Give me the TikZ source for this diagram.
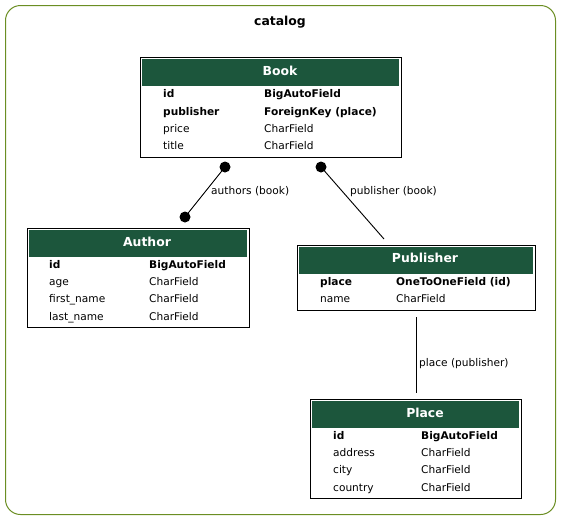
\documentclass[tikz,border=0pt]{standalone}
\usepackage{fontspec}
\setmainfont{DejaVu Sans}
\definecolor{frame}{HTML}{6B8E23}
\definecolor{hdr}{HTML}{1C563C}
\begin{document}
\begin{tikzpicture}[x=1pt,y=-1pt,
  tbl/.style={draw=black,line width=1pt,inner sep=0pt,anchor=north west},
  hdrfill/.style={fill=hdr},
  title/.style={anchor=base,text=white,font=\fontsize{12.4}{14}\selectfont\bfseries,inner sep=0pt},
  fld/.style={anchor=base west,font=\fontsize{10.6}{12}\selectfont,inner sep=0pt},
  key/.style={anchor=base west,font=\fontsize{10.6}{12}\selectfont\bfseries,inner sep=0pt},
  lbl/.style={anchor=base west,font=\fontsize{10.6}{12}\selectfont,inner sep=0pt},
  conn/.style={draw=black,line width=0.9pt},
  dot/.style={circle,fill=black,inner sep=0pt,minimum size=11pt}]
\useasboundingbox (0,0) rectangle (561,520);
% cluster
\draw[frame,line width=1pt,rounded corners=15pt] (5.5,5.5) rectangle (555.5,514.5);
\node[anchor=base,font=\fontsize{12.4}{14}\selectfont\bfseries,inner sep=0pt] (cat) at (280,25.5) {catalog};
% Book
\node[tbl,minimum width=261pt,minimum height=100pt] (book) at (140,57) {};
\fill[hdrfill] (142,59) rectangle (399,86);
\node[title] (bookt) at (280,75.5) {Book};
\node[key] (b1) at (163,97) {id};
\node[key] (b1t) at (264,97) {BigAutoField};
\node[key] (b2) at (163,115) {publisher};
\node[key] (b2t) at (264,115) {ForeignKey (place)};
\node[fld] (b3) at (163,132) {price};
\node[fld] (b3t) at (264,132) {CharField};
\node[fld] (b4) at (163,149) {title};
\node[fld] (b4t) at (264,149) {CharField};
% Author
\node[tbl,minimum width=222pt,minimum height=99pt] (author) at (27,228) {};
\fill[hdrfill] (29,230) rectangle (247,257);
\node[title] (autht) at (147,246) {Author};
\node[key] (a1) at (49,268) {id};
\node[key] (a1t) at (149,268) {BigAutoField};
\node[fld] (a2) at (49,285) {age};
\node[fld] (a2t) at (149,285) {CharField};
\node[fld] (a3) at (49,302) {first\_name};
\node[fld] (a3t) at (149,302) {CharField};
\node[fld] (a4) at (49,320) {last\_name};
\node[fld] (a4t) at (149,320) {CharField};
% Publisher
\node[tbl,minimum width=238pt,minimum height=65pt] (pub) at (297,245) {};
\fill[hdrfill] (299,247) rectangle (533,274);
\node[title] (pubt) at (425,262.5) {Publisher};
\node[key] (p1) at (320,285) {place};
\node[key] (p1t) at (396,285) {OneToOneField (id)};
\node[fld] (p2) at (320,302) {name};
\node[fld] (p2t) at (396,302) {CharField};
% Place
\node[tbl,minimum width=211pt,minimum height=99pt] (place) at (310,399) {};
\fill[hdrfill] (312,401) rectangle (519,428);
\node[title] (plt) at (425,417) {Place};
\node[key] (l1) at (333,439) {id};
\node[key] (l1t) at (421,439) {BigAutoField};
\node[fld] (l2) at (333,456) {address};
\node[fld] (l2t) at (421,456) {CharField};
\node[fld] (l3) at (333,473) {city};
\node[fld] (l3t) at (421,473) {CharField};
\node[fld] (l4) at (333,491) {country};
\node[fld] (l4t) at (421,491) {CharField};
% connectors
\node[dot] (d1) at (225,167) {};
\node[dot] (d2) at (185,217) {};
\draw[conn] (d1.center) -- (d2.center);
\node[lbl] (e1) at (211,194) {authors (book)};
\node[dot] (d3) at (321,167) {};
\coordinate (c3) at (384,239);
\draw[conn] (d3.center) -- (c3);
\node[lbl] (e2) at (350,194) {publisher (book)};
\coordinate (c4a) at (416,317);
\coordinate (c4b) at (416,393);
\draw[conn] (c4a) -- (c4b);
\node[lbl] (e3) at (419,366) {place (publisher)};
\end{tikzpicture}
\end{document}
